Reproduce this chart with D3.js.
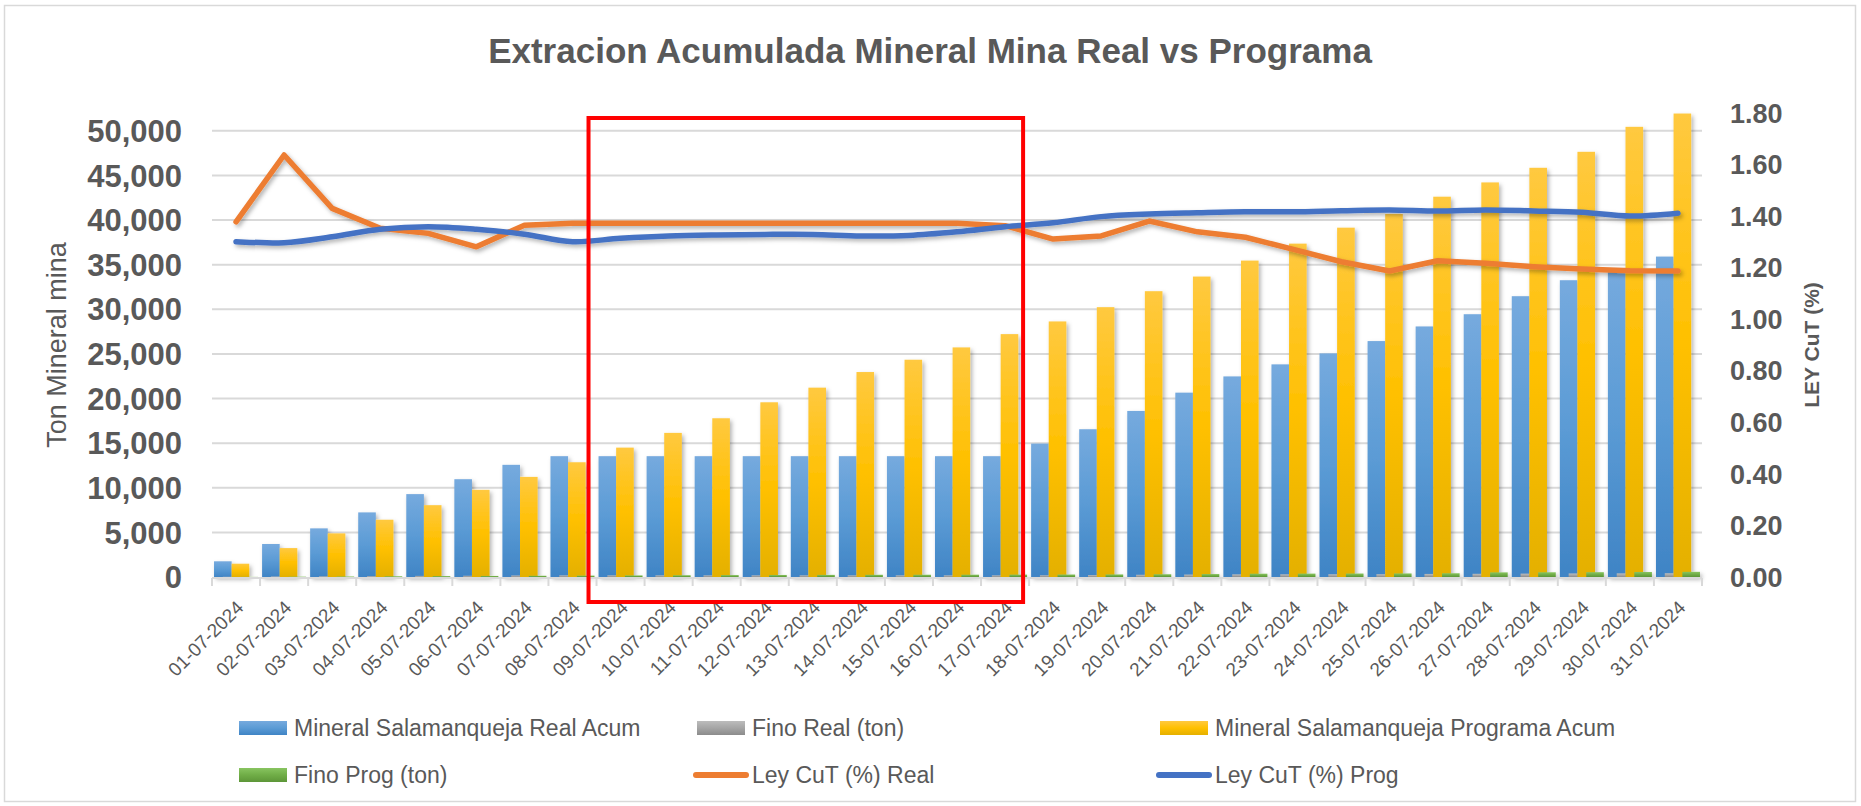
<!DOCTYPE html>
<html>
<head>
<meta charset="utf-8">
<script src="https://cdn.jsdelivr.net/npm/d3@7"></script>
<style>
  html, body { margin: 0; padding: 0; background: #fff; }
  svg { display: block; font-family: "Liberation Sans", Arial, sans-serif; }
</style>
</head>
<body>
<svg id="chart" width="1861" height="806"></svg>
<script>
// Categories (days of July 2024)
const dates = [
    "01-07-2024", "02-07-2024", "03-07-2024", "04-07-2024", "05-07-2024", "06-07-2024",
    "07-07-2024", "08-07-2024", "09-07-2024", "10-07-2024", "11-07-2024", "12-07-2024",
    "13-07-2024", "14-07-2024", "15-07-2024", "16-07-2024", "17-07-2024", "18-07-2024",
    "19-07-2024", "20-07-2024", "21-07-2024", "22-07-2024", "23-07-2024", "24-07-2024",
    "25-07-2024", "26-07-2024", "27-07-2024", "28-07-2024", "29-07-2024", "30-07-2024",
    "31-07-2024"
];

// Mineral Salamanqueja Real Acum (ton)
const realAcum = [
    1760, 3700, 5450, 7240, 9290, 10960, 12570, 13540, 13540, 13540, 13540,
    13540, 13540, 13540, 13540, 13540, 13540, 14950, 16560, 18610, 20660,
    22480, 23830, 25060, 26440, 28080, 29450, 31470, 33260, 34600, 35910
];

// Fino Real (ton)
const finoReal = [
    25, 55, 80, 100, 125, 140, 170, 185, 185, 185, 185,
    185, 185, 185, 185, 185, 185, 195, 215, 250, 275,
    300, 305, 310, 315, 345, 360, 380, 400, 410, 425
];

// Mineral Salamanqueja Programa Acum (ton)
const progAcum = [
    1490, 3240, 4890, 6420, 8050, 9770, 11220, 12860, 14500, 16150, 17790,
    19580, 21220, 22970, 24350, 25730, 27220, 28640, 30240, 32030, 33670,
    35460, 37360, 39150, 40680, 42620, 44220, 45860, 47650, 50450, 51940
];

// Fino Prog (ton)
const finoProg = [
    15, 40, 60, 80, 100, 120, 140, 160, 180, 200, 215,
    230, 240, 250, 255, 260, 270, 280, 290, 310, 330,
    370, 380, 390, 400, 420, 520, 530, 540, 560, 580
];

// Ley CuT (%) Real / Prog
const leyReal = [
    1.378, 1.637, 1.430, 1.353, 1.333, 1.281, 1.365, 1.372, 1.372, 1.372, 1.372,
    1.372, 1.372, 1.372, 1.372, 1.372, 1.363, 1.311, 1.323, 1.381, 1.339,
    1.318, 1.271, 1.223, 1.187, 1.227, 1.217, 1.204, 1.195, 1.188, 1.187
];
const leyProg = [
    1.301, 1.297, 1.320, 1.349, 1.359, 1.349, 1.330, 1.301, 1.314, 1.323, 1.327,
    1.329, 1.329, 1.323, 1.325, 1.339, 1.359, 1.374, 1.398, 1.408, 1.413,
    1.417, 1.417, 1.421, 1.424, 1.420, 1.424, 1.420, 1.415, 1.400, 1.411
];

const leftTicks = [0, 5000, 10000, 15000, 20000, 25000, 30000, 35000, 40000, 45000, 50000];
const rightTicks = [0, 0.2, 0.4, 0.6, 0.8, 1.0, 1.2, 1.4, 1.6, 1.8];

const TEXT = "#595959";
const GRID = "#d9d9d9";

const CHART = {
    left: 212,
    right: 1702,
    top: 113,
    bottom: 577,
};

const svg = d3.select("#chart");

// Outer chart border
svg.append("rect")
    .attr("x", 4.5).attr("y", 5.5)
    .attr("width", 1851).attr("height", 796)
    .attr("fill", "#fff")
    .attr("stroke", GRID)
    .attr("stroke-width", 1.5);

// Gradients and shadows
const defs = svg.append("defs");
function gradient(id, stops) {
    const g = defs.append("linearGradient")
        .attr("id", id)
        .attr("x1", 0).attr("y1", 0).attr("x2", 0).attr("y2", 1);
    stops.forEach(([o, c]) => g.append("stop").attr("offset", o).attr("stop-color", c));
}
gradient("gBlue", [[0, "#76aade"], [0.5, "#5b9bd5"], [1, "#3f84c5"]]);
gradient("gGray", [[0, "#bcbcbc"], [0.5, "#a5a5a5"], [1, "#8c8c8c"]]);
gradient("gYellow", [[0, "#ffc940"], [0.5, "#ffc000"], [1, "#e4b000"]]);
gradient("gGreen", [[0, "#88c460"], [0.5, "#70ad47"], [1, "#5d9638"]]);

defs.append("filter").attr("id", "shadow")
    .attr("x", "-20%").attr("y", "-20%").attr("width", "140%").attr("height", "140%")
    .append("feDropShadow")
    .attr("dx", 2).attr("dy", 2.5).attr("stdDeviation", 2)
    .attr("flood-color", "#000").attr("flood-opacity", 0.3);

// Title
svg.append("text")
    .attr("x", 930).attr("y", 63)
    .attr("text-anchor", "middle")
    .attr("fill", TEXT)
    .attr("font-size", 35)
    .attr("font-weight", "bold")
    .text("Extracion Acumulada Mineral Mina Real vs Programa");

// Scales
const x = d3.scaleBand().domain(dates).range([CHART.left, CHART.right]).padding(0);
const yL = d3.scaleLinear().domain([0, 52000]).range([CHART.bottom, CHART.top]);
const yR = d3.scaleLinear().domain([0, 1.8]).range([CHART.bottom, CHART.top]);

// Gridlines
svg.append("g")
    .selectAll("line")
    .data(leftTicks.filter((d) => d > 0))
    .join("line")
    .attr("x1", CHART.left).attr("x2", CHART.right)
    .attr("y1", (d) => yL(d)).attr("y2", (d) => yL(d))
    .attr("stroke", GRID)
    .attr("stroke-width", 2);

// Left axis labels
const fmt = d3.format(",");
svg.append("g")
    .selectAll("text")
    .data(leftTicks)
    .join("text")
    .attr("x", 182)
    .attr("y", (d) => yL(d))
    .attr("dy", "0.36em")
    .attr("text-anchor", "end")
    .attr("fill", TEXT)
    .attr("font-size", 31)
    .attr("font-weight", "bold")
    .text((d) => fmt(d));

// Right axis labels
svg.append("g")
    .selectAll("text")
    .data(rightTicks)
    .join("text")
    .attr("x", 1730)
    .attr("y", (d) => yR(d))
    .attr("dy", "0.36em")
    .attr("fill", TEXT)
    .attr("font-size", 27)
    .attr("font-weight", "bold")
    .text((d) => d.toFixed(2));

// Axis titles
svg.append("text")
    .attr("transform", "translate(66,345) rotate(-90)")
    .attr("text-anchor", "middle")
    .attr("fill", TEXT)
    .attr("font-size", 27)
    .text("Ton Mineral mina");

svg.append("text")
    .attr("transform", "translate(1819,345) rotate(-90)")
    .attr("text-anchor", "middle")
    .attr("fill", TEXT)
    .attr("font-size", 21)
    .attr("font-weight", "bold")
    .text("LEY CuT (%)");

// Bars: 4 series with 50% overlap and ~23% gap
const w = x.bandwidth() / (2.5 + 0.23);
const gapHalf = (x.bandwidth() - 2.5 * w) / 2;
const barSeries = [
    { values: realAcum, fill: "url(#gBlue)", k: 0 },
    { values: finoReal, fill: "url(#gGray)", k: 1 },
    { values: progAcum, fill: "url(#gYellow)", k: 2 },
    { values: finoProg, fill: "url(#gGreen)", k: 3 },
];
const barsG = svg.append("g").attr("filter", "url(#shadow)");
barSeries.forEach((s) => {
    barsG.append("g")
        .selectAll("rect")
        .data(s.values)
        .join("rect")
        .attr("x", (d, i) => x(dates[i]) + gapHalf + s.k * w * 0.5)
        .attr("y", (d) => yL(d))
        .attr("width", w)
        .attr("height", (d) => CHART.bottom - yL(d))
        .attr("fill", s.fill);
});

// Category axis line and tick marks
svg.append("line")
    .attr("x1", CHART.left).attr("x2", CHART.right)
    .attr("y1", CHART.bottom + 1).attr("y2", CHART.bottom + 1)
    .attr("stroke", GRID).attr("stroke-width", 2);
svg.append("g")
    .selectAll("line")
    .data(dates.concat([null]))
    .join("line")
    .attr("x1", (d) => (d ? x(d) : CHART.right))
    .attr("x2", (d) => (d ? x(d) : CHART.right))
    .attr("y1", CHART.bottom + 1).attr("y2", CHART.bottom + 9)
    .attr("stroke", GRID).attr("stroke-width", 2);

// Category labels (rotated)
svg.append("g")
    .selectAll("text")
    .data(dates)
    .join("text")
    .attr("transform", (d) => `translate(${x(d) + x.bandwidth() / 2 + 4},604) rotate(-45)`)
    .attr("text-anchor", "end")
    .attr("dy", "0.35em")
    .attr("fill", TEXT)
    .attr("font-size", 19)
    .text((d) => d);

// Lines
const cx = (i) => x(dates[i]) + x.bandwidth() / 2;
const lineReal = d3.line().x((d, i) => cx(i)).y((d) => yR(d));
const lineProg = d3.line().x((d, i) => cx(i)).y((d) => yR(d)).curve(d3.curveCatmullRom);
const linesG = svg.append("g").attr("filter", "url(#shadow)");
linesG.append("path")
    .datum(leyReal)
    .attr("d", lineReal)
    .attr("fill", "none")
    .attr("stroke", "#ed7d31")
    .attr("stroke-width", 5.5)
    .attr("stroke-linejoin", "round")
    .attr("stroke-linecap", "round");
linesG.append("path")
    .datum(leyProg)
    .attr("d", lineProg)
    .attr("fill", "none")
    .attr("stroke", "#4472c4")
    .attr("stroke-width", 5.5)
    .attr("stroke-linejoin", "round")
    .attr("stroke-linecap", "round");

// Highlight box
const box = {
    x1: x(dates[8]) - 8,
    x2: x(dates[16]) + x.bandwidth() - 6,
};
svg.append("rect")
    .attr("x", box.x1).attr("y", 118)
    .attr("width", box.x2 - box.x1).attr("height", 484)
    .attr("fill", "none")
    .attr("stroke", "#ff0000")
    .attr("stroke-width", 4);

// Legend
const legendItems = [
    { label: "Mineral Salamanqueja Real Acum", type: "bar", fill: "url(#gBlue)", col: 0, row: 0 },
    { label: "Fino Real (ton)", type: "bar", fill: "url(#gGray)", col: 1, row: 0 },
    { label: "Mineral Salamanqueja Programa Acum", type: "bar", fill: "url(#gYellow)", col: 2, row: 0 },
    { label: "Fino Prog (ton)", type: "bar", fill: "url(#gGreen)", col: 0, row: 1 },
    { label: "Ley CuT (%) Real", type: "line", stroke: "#ed7d31", col: 1, row: 1 },
    { label: "Ley CuT (%) Prog", type: "line", stroke: "#4472c4", col: 2, row: 1 },
];
const colX = [239, 697, 1160];
const rowY = [728, 775];
const lg = svg.append("g");
legendItems.forEach((it) => {
    const x0 = colX[it.col], y0 = rowY[it.row];
    if (it.type === "bar") {
        lg.append("rect")
            .attr("x", x0).attr("y", y0 - 7)
            .attr("width", 48).attr("height", 14)
            .attr("fill", it.fill);
    } else {
        lg.append("line")
            .attr("x1", x0 - 1).attr("x2", x0 + 49)
            .attr("y1", y0).attr("y2", y0)
            .attr("stroke", it.stroke)
            .attr("stroke-width", 6)
            .attr("stroke-linecap", "round");
    }
    lg.append("text")
        .attr("x", x0 + 55)
        .attr("y", y0)
        .attr("dy", "0.36em")
        .attr("fill", TEXT)
        .attr("font-size", 23)
        .text(it.label);
});
</script>
</body>
</html>
